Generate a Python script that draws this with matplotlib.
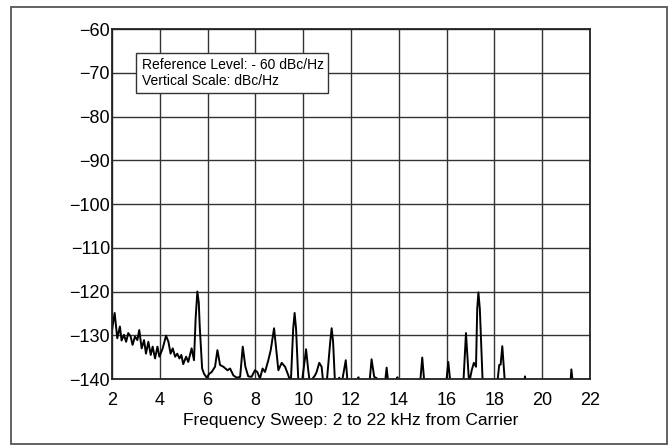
import matplotlib
matplotlib.use("Agg")
import matplotlib.pyplot as plt
from matplotlib.patches import Rectangle

plt.rcParams['font.family'] = ['Liberation Sans', 'DejaVu Sans']

# trace (kHz, dBc/Hz); -141 = below the bottom of the screen
freq = [2.00, 2.11, 2.22, 2.33, 2.40, 2.50, 2.59, 2.68, 2.78, 2.86, 2.96, 3.06, 3.14, 3.24,
        3.34, 3.42, 3.52, 3.62, 3.70, 3.80, 3.90, 3.98, 4.12, 4.26, 4.36, 4.45, 4.54, 4.64,
        4.73, 4.82, 4.90, 4.98, 5.10, 5.19, 5.33, 5.43, 5.50, 5.57, 5.63, 5.67, 5.77, 5.85,
        5.96, 6.07, 6.17, 6.31, 6.41, 6.52, 6.66, 6.83, 6.94, 7.08, 7.22, 7.36, 7.47, 7.58,
        7.70, 7.84, 7.98, 8.08, 8.19, 8.30, 8.40, 8.54, 8.64, 8.78, 8.89, 8.96, 9.10, 9.24,
        9.38, 9.48, 9.58, 9.64, 9.70, 9.80, 9.94, 10.12, 10.21, 10.28, 10.42, 10.49, 10.56,
        10.67, 10.77, 10.84, 10.98, 11.13, 11.19, 11.25, 11.33, 11.51, 11.61, 11.78, 11.86,
        12.28, 12.31, 12.34, 12.77, 12.86, 12.97, 13.07, 13.21, 13.42, 13.49, 13.56, 13.91,
        13.94, 13.97, 14.89, 14.98, 15.07, 15.98, 16.07, 16.16, 16.70, 16.81, 16.94, 17.05,
        17.14, 17.23, 17.28, 17.33, 17.39, 17.51, 18.12, 18.20, 18.26, 18.33, 18.44, 19.25,
        19.28, 19.31, 21.18, 21.22, 21.28, 22.00]
level = [-128.8, -124.9, -130.7, -128.0, -131.2, -129.9, -131.5, -129.5, -130.3, -132.2,
         -130.3, -131.1, -128.8, -133.0, -131.1, -134.2, -131.5, -134.5, -132.6, -135.3,
         -132.6, -134.9, -133.0, -130.1, -131.5, -134.2, -133.0, -134.9, -134.2, -135.3,
         -134.5, -136.6, -134.9, -136.1, -133.0, -135.7, -126.0, -120.0, -122.5, -128.0,
         -137.6, -138.8, -139.7, -138.8, -138.4, -137.2, -133.4, -136.8, -137.2, -138.0,
         -137.6, -139.2, -139.7, -139.5, -132.6, -137.2, -139.4, -139.5, -138.0, -138.4,
         -139.9, -137.6, -138.4, -135.7, -133.4, -128.4, -134.2, -138.0, -136.3, -137.2,
         -139.2, -141.0, -128.5, -124.9, -128.5, -141.0, -141.0, -133.2, -138.0, -141.0,
         -139.7, -139.2, -138.4, -136.3, -137.2, -141.0, -141.0, -131.5, -128.4, -131.5,
         -141.0, -139.7, -141.0, -135.7, -141.0, -141.0, -139.6, -141.0, -141.0, -135.5,
         -139.5, -139.8, -141.0, -141.0, -137.4, -141.0, -141.0, -139.6, -141.0, -141.0,
         -135.1, -141.0, -141.0, -136.1, -141.0, -141.0, -129.5, -141.0, -138.0, -136.3,
         -137.2, -124.0, -120.2, -124.0, -141.0, -141.0, -136.8, -136.7, -132.5, -141.0,
         -141.0, -139.4, -141.0, -141.0, -137.8, -141.0, -141.0]

xticks = list(range(2, 23, 2))
yticks = list(range(-140, -59, 10))

fig = plt.figure(figsize=(6.72, 4.45), dpi=100)
ax = fig.add_axes([0.1667, 0.1483, 0.7113, 0.7865])

ax.plot(freq, level, color='black', lw=1.4, zorder=2.5)
ax.set_xlim(2, 22)
ax.set_ylim(-140, -60)
ax.set_xticks(xticks)
ax.set_yticks(yticks)
ax.set_yticklabels(["\u2212%d" % abs(v) for v in yticks])
ax.tick_params(axis='both', length=0, labelsize=13)
ax.tick_params(axis='x', pad=9.5)
ax.tick_params(axis='y', pad=1.5)
ax.grid(True, color='#333333', lw=1.0)
ax.set_axisbelow(True)
for s in ax.spines.values():
    s.set_linewidth(1.3)
    s.set_color('#222222')
ax.set_xlabel("Frequency Sweep: 2 to 22 kHz from Carrier", fontsize=12.5, labelpad=2.5)

# info box
ax.add_patch(Rectangle((0.050, 0.817), 0.402, 0.114, transform=ax.transAxes,
                       facecolor='white', edgecolor='#333333', lw=1.0, zorder=3))
ax.text(0.0617, 0.8857, "Reference Level: - 60 dBc/Hz", transform=ax.transAxes,
        fontsize=10, va='baseline', zorder=4)
ax.text(0.0617, 0.840, "Vertical Scale: dBc/Hz", transform=ax.transAxes,
        fontsize=10, va='baseline', zorder=4)

# outer frame
fig.patches.append(Rectangle((11 / 672, 1 / 445), 656 / 672, 437 / 445,
                             transform=fig.transFigure, fill=False,
                             edgecolor='#555555', lw=1.3))

fig.savefig("out.png", dpi=100)
